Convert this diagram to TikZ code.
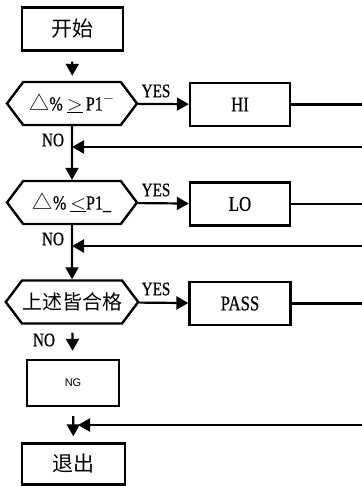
\documentclass[tikz,border=0pt]{standalone}
\usepackage{fontspec}
\setmainfont{Liberation Serif}[FakeStretch=0.8,FakeBold=0.6]
\newfontfamily\cjk{Noto Sans CJK SC}
\newfontfamily\ngfont{Liberation Sans}
\usetikzlibrary{arrows.meta,positioning,shapes.symbols}

\begin{document}
\begin{tikzpicture}[x=1pt,y=-1pt,
    box/.style={draw,line width=2.4pt,minimum width=100pt,minimum height=43pt,inner sep=0pt,font=\fontsize{21}{21}\selectfont},
    test/.style={draw,line width=2.4pt,shape=signal,signal to=east and west,signal pointer angle=106,
        minimum width=130pt,minimum height=43pt,inner sep=0pt,font=\fontsize{20}{20}\selectfont},
    flow/.style={line width=2.2pt,-{Triangle[length=12pt,width=13pt]}},
    link/.style={line width=2.2pt},
    lbl/.style={inner sep=0pt,font=\fontsize{19}{19}\selectfont}]
    \useasboundingbox (0,0) rectangle (361,486);

    % Start and the three tests
    \node[box,minimum width=101pt] (start) at (72.5,29) {\cjk 开始};
    \node[test] (t1) at (72,103.5) {{\cjk △}\% $\underline{>}$\,P1$^{-}$};
    \node[test] (t2) at (72,202.5) {{\cjk △}\% $\underline{<}$P1\_};
    \node[test] (t3) at (72,302) {\cjk 上述皆合格};

    % Results
    \node[box] (hi) at (240,104.5) {HI};
    \node[box] (lo) at (240,204) {LO};
    \node[box,minimum width=101pt] (pass) at (240,303.5) {PASS};
    \node[box,minimum width=92pt,minimum height=46pt] (ng) at (73,383) {\ngfont\fontsize{11}{11}\selectfont NG};
    \node[box,minimum width=103pt,minimum height=41pt] (exit) at (73.5,464) {\cjk 退出};

    % YES / NO labels
    \node[lbl] (yes1) at (156,91) {YES};
    \node[lbl] (yes2) at (156,190) {YES};
    \node[lbl] (yes3) at (156,289) {YES};
    \node[lbl] (no1) at (53,140) {NO};
    \node[lbl] (no2) at (53,239) {NO};
    \node[lbl] (no3) at (44,340) {NO};

    % Free ends at the right edge
    \coordinate (hiR) at (365,104.5);
    \coordinate (loR) at (365,204);
    \coordinate (passR) at (365,303.5);
    \coordinate (back1) at (365,147);
    \coordinate (back2) at (365,246);
    \coordinate (back3) at (365,425);

    % Main flow
    \draw[flow,shorten <=10pt,shorten >=5pt] (start) -- (t1);
    \draw[flow] (t1) -- (t2);
    \draw[flow] (t2) -- (t3);
    \draw[flow,shorten <=8pt,shorten >=8pt] (t3) -- (ng);
    \draw[flow,shorten <=9pt,shorten >=6pt] (ng) -- (exit);

    % YES branches
    \draw[flow] (t1) -- (hi);
    \draw[flow] (t2) -- (lo);
    \draw[flow] (t3) -- (pass);
    \draw[link] (hi) -- (hiR);
    \draw[link] (lo) -- (loR);
    \draw[link] (pass) -- (passR);

    % Returns
    \draw[flow] (back1) -- (back1 -| t1);
    \draw[flow] (back2) -- (back2 -| t2);
    \draw[flow,shorten >=5pt] (back3) -- (back3 -| ng);
\end{tikzpicture}
\end{document}
